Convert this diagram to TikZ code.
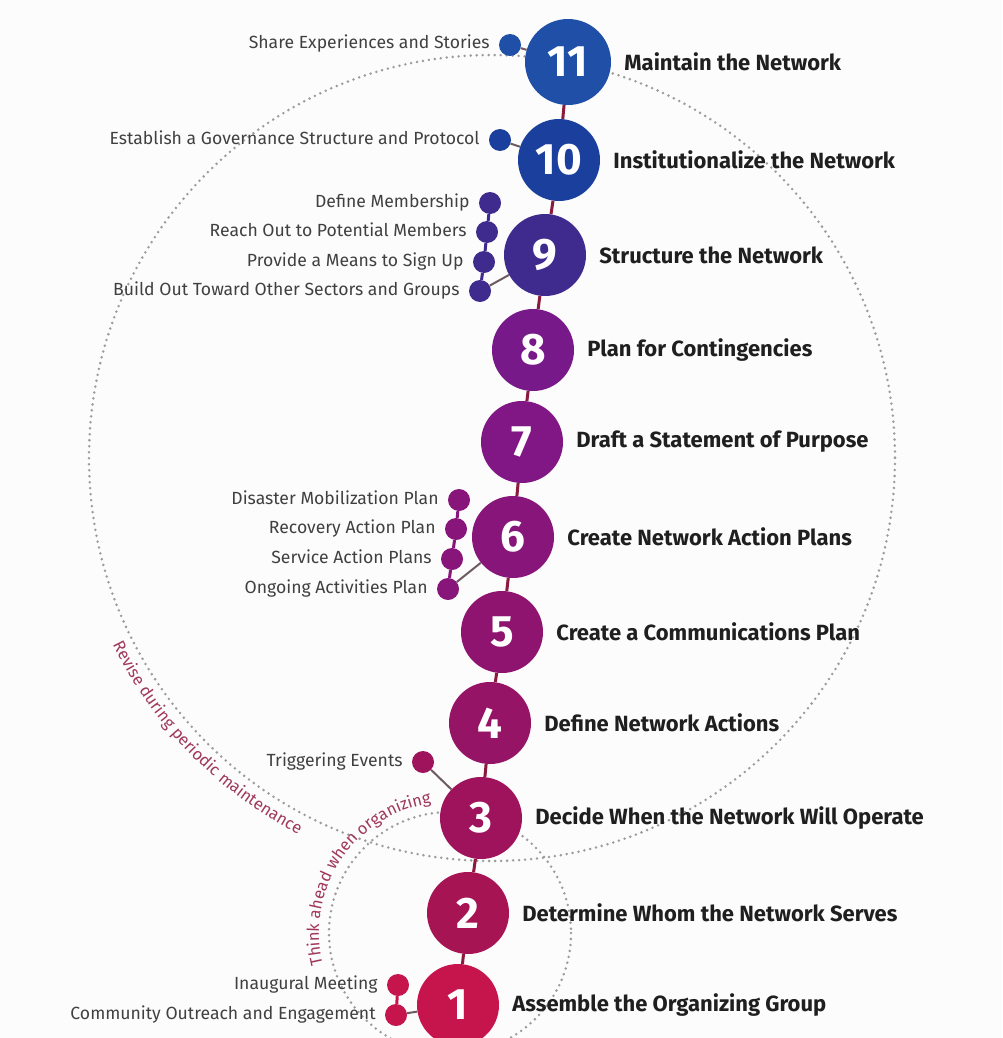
\documentclass[tikz,border=0pt]{standalone}
\usepackage{fontspec}
\setmainfont{Fira Sans}
\usetikzlibrary{decorations.text}
\definecolor{c1}{HTML}{C6144C}
\definecolor{c2}{HTML}{A61454}
\definecolor{c3}{HTML}{9E135C}
\definecolor{c4}{HTML}{951466}
\definecolor{c5}{HTML}{8E1470}
\definecolor{c6}{HTML}{88157A}
\definecolor{c7}{HTML}{801784}
\definecolor{c8}{HTML}{78198A}
\definecolor{c9}{HTML}{3F2A8E}
\definecolor{c10}{HTML}{1A3F9C}
\definecolor{c11}{HTML}{1F4FA6}
\definecolor{spinecol}{HTML}{8B1A3C}
\definecolor{linkcol}{HTML}{6E5A62}
\definecolor{arccol}{HTML}{A0385A}
\definecolor{ringcol}{HTML}{9C9C9C}
\definecolor{bgcol}{HTML}{FCFCFC}
\newcommand\arcfmt{\color{arccol}\fontsize{16.5}{18}\selectfont}
\begin{document}
\begin{tikzpicture}[x=1pt,y=-1pt,
  mainnode/.style={circle, minimum size=82pt, inner sep=0pt, fill=#1,
    font=\bfseries\fontsize{44}{44}\selectfont, text=white},
  bignode/.style={mainnode=#1, minimum size=86pt},
  lab/.style={anchor=west, inner sep=0pt, xshift=13pt,
    font=\bfseries\fontsize{22}{24}\selectfont, text=black!88},
  subdot/.style={circle, minimum size=22pt, inner sep=0pt, fill=#1},
  sublab/.style={anchor=east, inner sep=0pt, xshift=-9pt, text height=12pt, text depth=4pt,
    font=\fontsize{17.6}{19}\selectfont, text=black!75},
  spine/.style={draw=spinecol, line width=3pt},
  link/.style={draw=linkcol, line width=2pt},
  chain/.style={draw=#1, line width=3pt},
  ring/.style={draw=ringcol, line width=2.8pt, line cap=round, dash pattern=on 0pt off 6pt},
]
\useasboundingbox (0,0) rectangle (1002,1038);
\fill[bgcol] (0,0) rectangle (1002,1038);
\begin{scope}
\clip (0,0) rectangle (1002,1038);
% dotted cycles
\draw[ring] (492,458) circle[radius=403];
\draw[ring] (450,933) circle[radius=121];
% texts along arcs
\path[decorate, decoration={text along path, text align=center,
  text={|\arcfmt|Revise during periodic maintenance}}]
  (492,458) ++(157:423) arc[start angle=157, end angle=114, radius=423];
\path[decorate, decoration={text along path, text align=center,
  text={|\arcfmt|Think ahead when organizing}}]
  (450,933) ++(164:131) arc[start angle=164, end angle=264, radius=131];
\end{scope}

% main steps
\node[bignode=c11] (n11) at (568,62) {11};
\node[mainnode=c10] (n10) at (559,160) {10};
\node[mainnode=c9] (n9) at (545,255) {9};
\node[mainnode=c8] (n8) at (533,350) {8};
\node[mainnode=c7] (n7) at (522,442) {7};
\node[mainnode=c6] (n6) at (513,537) {6};
\node[mainnode=c5] (n5) at (502,632) {5};
\node[mainnode=c4] (n4) at (490,723) {4};
\node[mainnode=c3] (n3) at (481,818) {3};
\node[mainnode=c2] (n2) at (468,913) {2};
\node[mainnode=c1] (n1) at (458,1005) {1};

\foreach \a/\b in {n11/n10,n10/n9,n9/n8,n8/n7,n7/n6,n6/n5,n5/n4,n4/n3,n3/n2,n2/n1}
  \draw[spine] (\a) -- (\b);

% step labels
\node[lab] (l11) at (n11.east) {Maintain the Network};
\node[lab] (l10) at (n10.east) {Institutionalize the Network};
\node[lab] (l9) at (n9.east) {Structure the Network};
\node[lab] (l8) at (n8.east) {Plan for Contingencies};
\node[lab] (l7) at (n7.east) {Draft a Statement of Purpose};
\node[lab] (l6) at (n6.east) {Create Network Action Plans};
\node[lab] (l5) at (n5.east) {Create a Communications Plan};
\node[lab] (l4) at (n4.east) {Define Network Actions};
\node[lab] (l3) at (n3.east) {Decide When the Network Will Operate};
\node[lab] (l2) at (n2.east) {Determine Whom the Network Serves};
\node[lab] (l1) at (n1.east) {Assemble the Organizing Group};

% sub items
\node[subdot=c11] (s11) at (510,45) {};
\node[subdot=c10] (s10) at (500,140) {};
\node[subdot=c9] (s9a) at (490,203) {};
\node[subdot=c9] (s9b) at (487,232) {};
\node[subdot=c9] (s9c) at (484,262) {};
\node[subdot=c9] (s9d) at (480,291) {};
\node[subdot=c6] (s6a) at (459,500) {};
\node[subdot=c6] (s6b) at (456,529) {};
\node[subdot=c6] (s6c) at (452,559) {};
\node[subdot=c6] (s6d) at (448,589) {};
\node[subdot=c3] (s3) at (423,762) {};
\node[subdot=c1] (s1a) at (398,985) {};
\node[subdot=c1] (s1b) at (396,1015) {};

\draw[link] (s11) -- (n11);
\draw[link] (s10) -- (n10);
\draw[chain=c9] (s9a) -- (s9b);
\draw[chain=c9] (s9b) -- (s9c);
\draw[chain=c9] (s9c) -- (s9d);
\draw[link] (s9d) -- (n9);
\draw[chain=c6] (s6a) -- (s6b);
\draw[chain=c6] (s6b) -- (s6c);
\draw[chain=c6] (s6c) -- (s6d);
\draw[link] (s6d) -- (n6);
\draw[link] (s3) -- (n3);
\draw[chain=c1] (s1a) -- (s1b);
\draw[link] (s1b) -- (n1);

\node[sublab] (t11) at (s11.west) {Share Experiences and Stories};
\node[sublab] (t10) at (s10.west) {Establish a Governance Structure and Protocol};
\node[sublab] (t9a) at (s9a.west) {Define Membership};
\node[sublab] (t9b) at (s9b.west) {Reach Out to Potential Members};
\node[sublab] (t9c) at (s9c.west) {Provide a Means to Sign Up};
\node[sublab] (t9d) at (s9d.west) {Build Out Toward Other Sectors and Groups};
\node[sublab] (t6a) at (s6a.west) {Disaster Mobilization Plan};
\node[sublab] (t6b) at (s6b.west) {Recovery Action Plan};
\node[sublab] (t6c) at (s6c.west) {Service Action Plans};
\node[sublab] (t6d) at (s6d.west) {Ongoing Activities Plan};
\node[sublab] (t3) at (s3.west) {Triggering Events};
\node[sublab] (t1a) at (s1a.west) {Inaugural Meeting};
\node[sublab] (t1b) at (s1b.west) {Community Outreach and Engagement};
\end{tikzpicture}
\end{document}
